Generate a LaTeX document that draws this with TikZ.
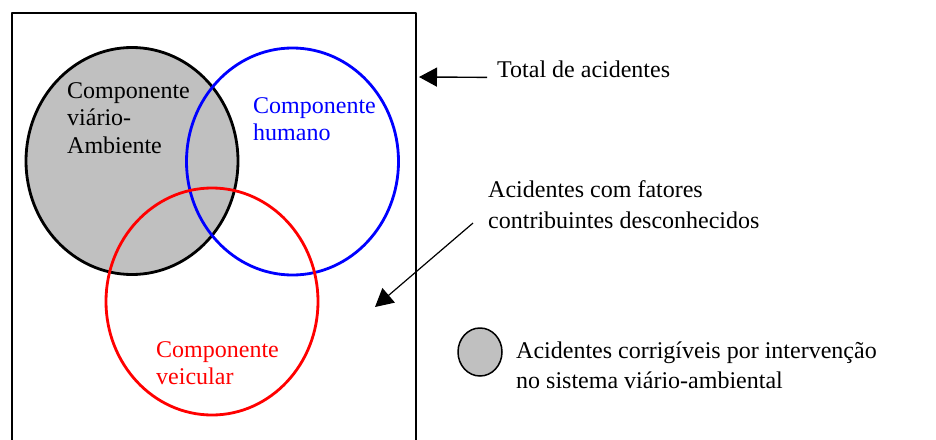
\documentclass[tikz,border=0pt]{standalone}
\usepackage{fontspec}
\setmainfont{Liberation Serif}
\usetikzlibrary{shapes.geometric,arrows.meta}
\definecolor{cinza}{RGB}{192,192,192}
\tikzset{
	conjunto/.style={ellipse, line width=2.8pt, minimum width=212pt, minimum height=227pt, inner sep=0pt},
	rotulo/.style={align=left, inner sep=0pt, anchor=north west, font=\fontsize{24}{27.5}\selectfont},
	texto/.style={align=left, inner sep=0pt, anchor=north west, font=\fontsize{24}{31}\selectfont},
	seta/.style={-{Triangle[length=18pt,width=19pt]}, line width=1.4pt}
}
\begin{document}
\begin{tikzpicture}[x=1pt, y=-1pt, line join=round]
	\useasboundingbox (0,0) rectangle (936,439);
	% total de acidentes
	\draw[line width=2pt] (12,450)--(12,13)--(416,13)--(416,450);
	\coordinate (borda) at (419,77);
	\coordinate (desconhecido) at (375,307);
	% conjuntos
	\node[conjunto, draw=black, fill=cinza] (viario) at (132,161) {};
	\node[conjunto, draw=blue] (humano) at (292.5,161.5) {};
	\node[conjunto, draw=red] (veicular) at (212,301.5) {};
	\node[rotulo] (tviario) at (67,82) {Componente\\viário-\\Ambiente};
	\node[rotulo, text=blue] (thumano) at (253,97) {Componente\\humano};
	\node[rotulo, text=red] (tveicular) at (156,341) {Componente\\veicular};
	% textos da direita
	\node[texto] (total) at (497,60.5) {Total de acidentes};
	\node[texto] (fatores) at (488,180.5) {Acidentes com fatores\\contribuintes desconhecidos};
	\node[ellipse, draw, line width=1.5pt, fill=cinza, minimum width=44pt, minimum height=48pt, inner sep=0pt] (legenda) at (480,352) {};
	\node[texto, font=\fontsize{24}{30}\selectfont] (corrigiveis) at (516,341.5) {Acidentes corrigíveis por intervenção\\no sistema viário-ambiental};
	\draw[seta] ([xshift=-10pt]total.base west) -- (borda);
	\draw[seta, line width=1.2pt] ([xshift=-15pt,yshift=6pt]fatores.south west) -- (desconhecido);
\end{tikzpicture}
\end{document}
